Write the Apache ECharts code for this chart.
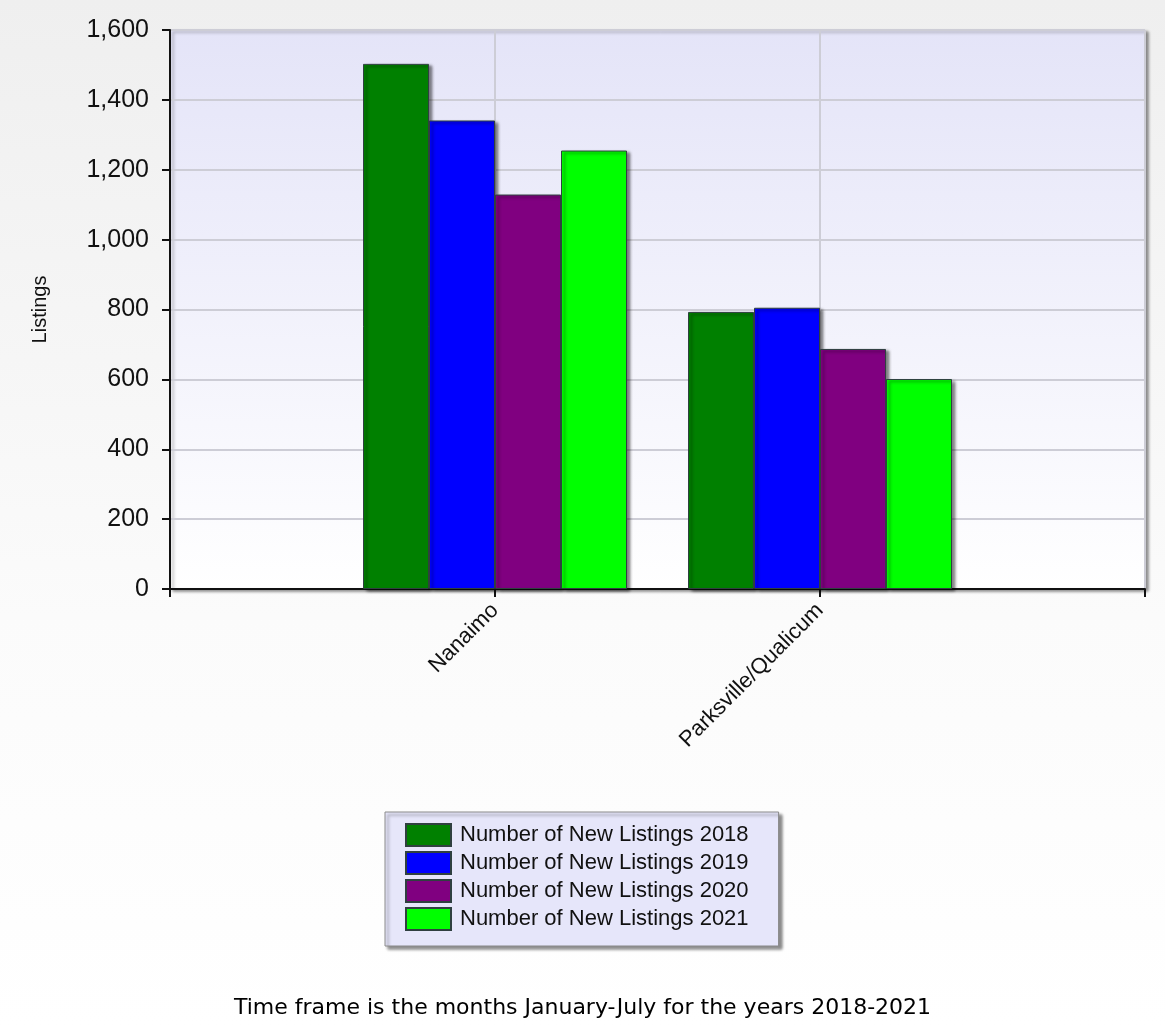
<!DOCTYPE html>
<html>
<head>
<meta charset="utf-8">
<script src="https://cdn.jsdelivr.net/npm/echarts@6/dist/echarts.min.js"></script>
<style>
html,body{margin:0;padding:0;}
body{background:linear-gradient(to bottom,#efefef 0%,#fbfbfb 60%,#ffffff 100%);}
#chart{width:1165px;height:1027px;}
</style>
</head>
<body>
<div id="chart"></div>
<script>
const categories = ['Nanaimo', 'Parksville/Qualicum'];
const seriesNames = ['Number of New Listings 2018', 'Number of New Listings 2019', 'Number of New Listings 2020', 'Number of New Listings 2021'];
const listings2018 = [1503, 793];
const listings2019 = [1341, 805];
const listings2020 = [1129, 687];
const listings2021 = [1255, 601];
const yTicks = [0, 200, 400, 600, 800, 1000, 1200, 1400, 1600];
const colors = ['#008000', '#0000ff', '#800080', '#00ff00'];
const footer = 'Time frame is the months January-July for the years 2018-2021';

const axisCats = [''].concat(categories).concat(['']);
const pad = arr => ['-'].concat(arr).concat(['-']);
const allData = [listings2018, listings2019, listings2020, listings2021];

const chart = echarts.init(document.getElementById('chart'));
chart.setOption({
  backgroundColor: 'transparent',
  animation: false,
  textStyle: { fontFamily: 'Liberation Sans, Arial, sans-serif' },
  title: {
    text: footer,
    left: 'center',
    top: 992,
    textStyle: { fontFamily: 'DejaVu Sans', fontSize: 22, fontWeight: 'normal', color: '#000' }
  },
  grid: {
    left: 170, right: 20, top: 30, bottom: 438,
    show: true,
    backgroundColor: new echarts.graphic.LinearGradient(0, 0, 0, 1, [
      { offset: 0, color: '#e4e4f8' },
      { offset: 1, color: '#ffffff' }
    ]),
    borderColor: '#c8c8c8',
    borderWidth: 1,
    shadowColor: 'rgba(0,0,0,0.45)',
    shadowBlur: 3,
    shadowOffsetX: 3,
    shadowOffsetY: 2
  },
  legend: {
    orient: 'vertical',
    left: 385,
    top: 812,
    width: 394,
    padding: [11, 30, 15, 20],
    icon: 'rect',
    itemWidth: 45,
    itemHeight: 22,
    itemGap: 4,
    backgroundColor: '#e6e6fa',
    borderColor: '#8a8a8a',
    borderWidth: 1,
    shadowColor: 'rgba(0,0,0,0.45)',
    shadowBlur: 3,
    shadowOffsetX: 3,
    shadowOffsetY: 3,
    textStyle: { fontSize: 22, lineHeight: 22, color: '#111', padding: [0, 0, 0, 4] },
    data: seriesNames
  },
  xAxis: {
    type: 'category',
    data: axisCats,
    boundaryGap: false,
    axisLine: { lineStyle: { color: '#111', width: 2 } },
    axisTick: { show: true, length: 8, lineStyle: { color: '#111', width: 2 } },
    axisLabel: { rotate: 45, fontSize: 22, color: '#111', margin: 18, interval: 0 },
    splitLine: { show: true, lineStyle: { color: '#cdcdd6', width: 2 } }
  },
  yAxis: {
    type: 'value',
    min: 0, max: 1600, interval: 200,
    name: 'Listings',
    nameLocation: 'middle',
    nameGap: 120,
    nameTextStyle: { fontSize: 20, color: '#111' },
    axisLine: { show: true, lineStyle: { color: '#111', width: 2 } },
    axisTick: { show: true, length: 8, lineStyle: { color: '#111', width: 2 } },
    axisLabel: {
      fontSize: 25, color: '#111', margin: 21,
      formatter: v => yTicks.includes(v) ? v.toLocaleString('en-US') : ''
    },
    splitLine: { show: true, lineStyle: { color: '#cdcdd6', width: 2 } }
  },
  series: seriesNames.map((name, i) => ({
    name: name,
    type: 'bar',
    data: pad(allData[i]),
    barWidth: 66,
    barGap: '0%',
    itemStyle: {
      color: colors[i],
      borderColor: '#2f4040',
      borderWidth: 1,
      shadowColor: 'rgba(0,0,0,0.5)',
      shadowBlur: 3,
      shadowOffsetX: 3,
      shadowOffsetY: 2
    }
  }))
});
</script>
</body>
</html>
